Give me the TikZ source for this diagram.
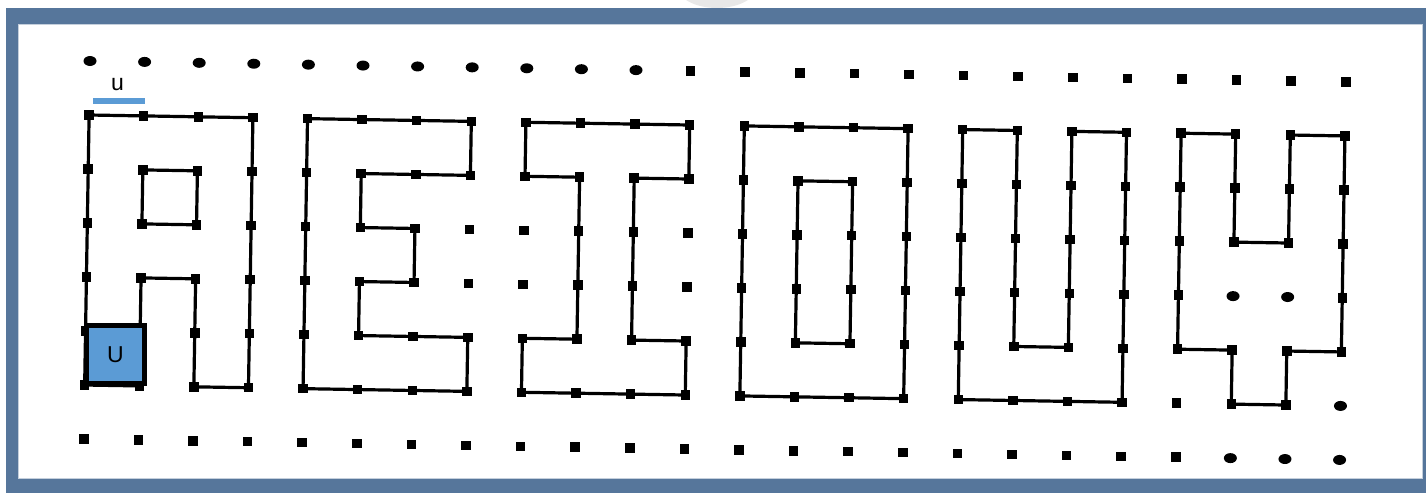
\documentclass[tikz,border=0pt]{standalone}
\usepackage{fontspec}
\setmainfont{Liberation Sans}
\usetikzlibrary{shapes.geometric}

\definecolor{framebg}{RGB}{86,118,155}
\definecolor{unitblue}{RGB}{91,155,213}

\begin{document}
\begin{tikzpicture}[x=1pt, y=-1pt,
  sqdot/.style={rectangle, fill=black, inner sep=0pt, minimum size=9.5pt},
  ovaldot/.style={ellipse, fill=black, inner sep=0pt, minimum width=13pt, minimum height=10pt},
  outline/.style={draw=black, line width=3.2pt, line join=round},
  unitline/.style={draw=unitblue, line width=6pt},
  unitbox/.style={rectangle, draw=black, line width=5pt, fill=unitblue, minimum size=58pt,
                  inner sep=0pt, font=\fontsize{23}{27}\selectfont},
  unitlabel/.style={inner sep=0pt, font=\fontsize{23}{27}\selectfont}
]
\useasboundingbox (0,0) rectangle (1426,493);

% Frame
\fill[white] (0,0) rectangle (1426,493);
\begin{scope}
  \clip (600,0) rectangle (800,8);
  \fill[gray!18] (717,-14) ellipse [x radius=40, y radius=22];
\end{scope}
\fill[framebg] (6,8) rectangle (1426,493);
\fill[white] (19,25) rectangle (1422,478);
\draw[framebg!35!white, line width=1.2pt] (18.5,24.5) rectangle (1422.5,478.5);

% Grid points (slightly rotated, as scanned)
\begin{scope}[shift={(90,61)}, x={(54.6pt,-0.91pt)}, y={(-0.89pt,-54pt)}]
  \foreach \c in {0,...,23}
    \foreach \r in {0,...,7}
      \coordinate (p-\c-\r) at (\c,\r);
\end{scope}

% Letter outlines: A E I O U Y
\draw[outline] (p-0-1) -- (p-3-1) -- (p-3-6) -- (p-2-6) -- (p-2-4) -- (p-1-4) -- (p-1-6) -- (p-0-6) -- cycle
               (p-1-2) -- (p-2-2) -- (p-2-3) -- (p-1-3) -- cycle;
\draw[outline] (p-4-1) -- (p-7-1) -- (p-7-2) -- (p-5-2) -- (p-5-3) -- (p-6-3) -- (p-6-4) -- (p-5-4)
               -- (p-5-5) -- (p-7-5) -- (p-7-6) -- (p-4-6) -- cycle;
\draw[outline] (p-8-1) -- (p-11-1) -- (p-11-2) -- (p-10-2) -- (p-10-5) -- (p-11-5) -- (p-11-6) -- (p-8-6)
               -- (p-8-5) -- (p-9-5) -- (p-9-2) -- (p-8-2) -- cycle;
\draw[outline] (p-12-1) -- (p-15-1) -- (p-15-6) -- (p-12-6) -- cycle
               (p-13-2) -- (p-14-2) -- (p-14-5) -- (p-13-5) -- cycle;
\draw[outline] (p-16-1) -- (p-17-1) -- (p-17-5) -- (p-18-5) -- (p-18-1) -- (p-19-1) -- (p-19-6) -- (p-16-6) -- cycle;
\draw[outline] (p-20-1) -- (p-21-1) -- (p-21-3) -- (p-22-3) -- (p-22-1) -- (p-23-1) -- (p-23-5) -- (p-22-5)
               -- (p-22-6) -- (p-21-6) -- (p-21-5) -- (p-20-5) -- cycle;

% Dots
\foreach \c in {0,...,10}
  \node[ovaldot] (d-\c-0) at (p-\c-0) {};
\foreach \c in {11,...,23}
  \node[sqdot] (d-\c-0) at (p-\c-0) {};
\foreach \c in {0,...,23}
  \foreach \r in {1,...,6} {
    \pgfmathtruncatemacro\isoval{(\c==21 && \r==4) || (\c==22 && \r==4) || (\c==23 && \r==6)}
    \ifnum\isoval=1
      \node[ovaldot] (d-\c-\r) at (p-\c-\r) {};
    \else
      \node[sqdot] (d-\c-\r) at (p-\c-\r) {};
    \fi
  }
\foreach \c in {0,...,20}
  \node[sqdot] (d-\c-7) at (p-\c-7) {};
\foreach \c in {21,22,23}
  \node[ovaldot] (d-\c-7) at (p-\c-7) {};

% Unit length and unit square
\coordinate (u-a) at (93,101);
\coordinate (u-b) at (145,101);
\draw[unitline] (u-a) -- (u-b);
\node[unitlabel] (u-lbl) at (117.5,85) {u};
\node[unitbox] (u-box) at (115.5,354.5) {U};

\end{tikzpicture}
\end{document}
